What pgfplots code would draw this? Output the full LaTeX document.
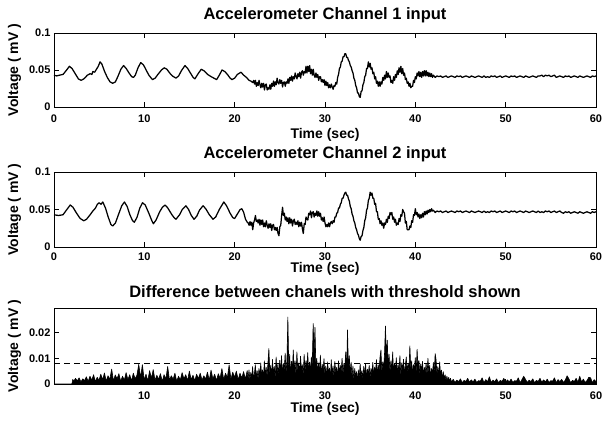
\documentclass[border=0pt]{standalone}
\usepackage{fontspec}
\setmainfont{Liberation Sans}
\usepackage{pgfplots}
\usepackage{pgfplotstable}
\pgfplotsset{compat=1.18}

\newcommand\tickfont{\bfseries\fontsize{11bp}{13bp}\selectfont}
\newcommand\labfont{\bfseries\fontsize{14bp}{16bp}\selectfont}
\newcommand\titfont{\bfseries\fontsize{16.5bp}{18bp}\selectfont}

% channel 1 (mV)
\pgfplotstableread[row sep=\\]{t v\\
0 0.043\\ 0.3 0.042\\ 0.6 0.043\\ 1.0 0.044\\ 1.4 0.050\\ 1.7 0.055\\ 2.0 0.052\\ 2.4 0.044\\ 2.7 0.038\\ 3.0 0.036\\
3.3 0.038\\ 3.7 0.043\\ 4.0 0.045\\ 4.2 0.044\\ 4.3 0.048\\ 4.5 0.047\\ 4.7 0.051\\ 4.9 0.055\\ 5.1 0.061\\ 5.3 0.058\\
5.6 0.048\\ 5.9 0.040\\ 6.2 0.034\\ 6.5 0.032\\ 6.8 0.034\\ 7.1 0.042\\ 7.4 0.051\\ 7.7 0.056\\ 8.0 0.052\\ 8.3 0.046\\
8.6 0.041\\ 8.8 0.040\\ 9.0 0.043\\ 9.3 0.053\\ 9.6 0.060\\ 9.9 0.057\\ 10.2 0.050\\ 10.5 0.043\\ 10.9 0.037\\ 11.2 0.039\\
11.5 0.044\\ 11.9 0.050\\ 12.2 0.053\\ 12.5 0.051\\ 12.8 0.046\\ 13.1 0.042\\ 13.5 0.039\\ 13.8 0.042\\ 14.1 0.049\\ 14.5 0.056\\
14.8 0.052\\ 15.1 0.046\\ 15.4 0.040\\ 15.6 0.038\\ 15.9 0.044\\ 16.3 0.051\\ 16.6 0.049\\ 17.0 0.044\\ 17.4 0.041\\ 17.7 0.039\\
18.0 0.037\\ 18.3 0.043\\ 18.6 0.050\\ 18.9 0.048\\ 19.2 0.044\\ 19.5 0.039\\ 19.7 0.037\\ 20.0 0.039\\ 20.3 0.044\\ 20.7 0.047\\
21.0 0.043\\ 21.3 0.040\\ 21.6 0.036\\ 21.8 0.035\\ 22.0 0.033\\
22.1 0.036\\ 22.2 0.031\\ 22.3 0.036\\ 22.4 0.028\\ 22.5 0.033\\ 22.6 0.029\\ 22.7 0.036\\ 22.8 0.030\\ 22.9 0.026\\ 23.0 0.032\\
23.1 0.027\\ 23.2 0.032\\ 23.3 0.023\\ 23.4 0.030\\ 23.5 0.031\\ 23.6 0.023\\ 23.7 0.026\\ 23.8 0.024\\ 23.9 0.030\\ 24.0 0.024\\
24.1 0.032\\ 24.2 0.028\\ 24.3 0.035\\ 24.4 0.028\\ 24.5 0.034\\ 24.6 0.030\\ 24.7 0.039\\ 24.8 0.033\\ 24.9 0.031\\ 25.0 0.037\\
25.1 0.032\\ 25.2 0.036\\ 25.3 0.027\\ 25.4 0.033\\ 25.5 0.034\\ 25.6 0.028\\ 25.7 0.034\\ 25.8 0.032\\ 25.9 0.038\\ 26.0 0.032\\
26.1 0.040\\ 26.2 0.036\\ 26.3 0.042\\ 26.4 0.035\\ 26.5 0.041\\ 26.6 0.038\\ 26.7 0.046\\ 26.8 0.041\\ 26.9 0.038\\ 27.0 0.045\\
27.1 0.041\\ 27.2 0.047\\ 27.3 0.039\\ 27.4 0.047\\ 27.5 0.049\\ 27.6 0.043\\ 27.7 0.048\\ 27.8 0.046\\ 27.9 0.055\\ 28.0 0.046\\
28.1 0.055\\ 28.2 0.048\\ 28.3 0.056\\ 28.4 0.045\\ 28.5 0.051\\ 28.6 0.043\\ 28.7 0.051\\ 28.8 0.043\\ 28.9 0.040\\ 29.0 0.046\\
29.1 0.040\\ 29.2 0.044\\ 29.3 0.036\\ 29.4 0.041\\ 29.5 0.041\\ 29.6 0.034\\ 29.7 0.037\\ 29.8 0.033\\ 29.9 0.037\\ 30.0 0.029\\
30.1 0.035\\ 30.2 0.029\\ 30.3 0.033\\ 30.4 0.026\\ 30.5 0.030\\ 30.6 0.026\\ 30.7 0.031\\ 30.8 0.027\\ 30.9 0.024\\ 31.0 0.029\\
31.1 0.028\\ 31.2 0.033\\ 31.3 0.031\\ 31.4 0.040\\ 31.5 0.044\\ 31.6 0.052\\ 31.7 0.054\\ 31.8 0.061\\ 31.9 0.062\\ 32.0 0.068\\
32.1 0.068\\ 32.2 0.072\\ 32.3 0.072\\ 32.4 0.067\\ 32.5 0.067\\ 32.6 0.063\\ 32.7 0.061\\ 32.8 0.056\\ 32.9 0.054\\ 33.0 0.049\\
33.1 0.046\\ 33.2 0.039\\ 33.3 0.036\\ 33.4 0.029\\ 33.5 0.026\\ 33.6 0.019\\ 33.7 0.019\\ 33.8 0.014\\ 33.9 0.013\\ 34.0 0.021\\
34.1 0.022\\ 34.2 0.030\\ 34.3 0.033\\ 34.4 0.041\\ 34.5 0.043\\ 34.6 0.052\\ 34.7 0.052\\ 34.8 0.061\\ 34.9 0.054\\ 35.0 0.059\\
35.1 0.051\\ 35.2 0.053\\ 35.3 0.045\\ 35.4 0.047\\ 35.5 0.038\\ 35.6 0.041\\ 35.7 0.032\\ 35.8 0.035\\ 35.9 0.028\\ 36.0 0.034\\
36.1 0.028\\ 36.2 0.034\\ 36.3 0.031\\ 36.4 0.040\\ 36.5 0.036\\ 36.6 0.043\\ 36.7 0.038\\ 36.8 0.048\\ 36.9 0.040\\ 37.0 0.046\\
37.1 0.040\\ 37.2 0.042\\ 37.3 0.033\\ 37.4 0.036\\ 37.5 0.032\\ 37.6 0.041\\ 37.7 0.036\\ 37.8 0.044\\ 37.9 0.040\\ 38.0 0.049\\
38.1 0.044\\ 38.2 0.053\\ 38.3 0.047\\ 38.4 0.055\\ 38.5 0.045\\ 38.6 0.052\\ 38.7 0.043\\ 38.8 0.046\\ 38.9 0.037\\ 39.0 0.039\\
39.1 0.032\\ 39.2 0.034\\ 39.3 0.028\\ 39.4 0.032\\ 39.5 0.026\\ 39.6 0.028\\ 39.7 0.028\\ 39.8 0.036\\ 39.9 0.033\\ 40.0 0.041\\
40.1 0.038\\ 40.2 0.046\\ 40.3 0.042\\ 40.4 0.048\\ 40.5 0.041\\ 40.6 0.047\\ 40.7 0.040\\ 40.8 0.048\\ 40.9 0.042\\ 41.0 0.049\\
41.1 0.042\\ 41.2 0.049\\ 41.3 0.042\\ 41.4 0.047\\ 41.5 0.041\\ 41.6 0.046\\ 41.7 0.041\\ 41.8 0.045\\ 41.9 0.040\\ 42.0 0.043\\
42.2 0.040\\ 42.4 0.042\\ 42.6 0.041\\ 42.8 0.042\\ 43.0 0.040\\ 43.2 0.041\\ 43.4 0.042\\ 43.6 0.040\\ 43.8 0.041\\ 44.0 0.042\\
44.2 0.041\\ 44.4 0.040\\ 44.6 0.042\\ 44.8 0.041\\ 45.0 0.042\\ 45.2 0.040\\ 45.4 0.041\\ 45.6 0.042\\ 45.8 0.041\\ 46.0 0.040\\
46.2 0.042\\ 46.4 0.041\\ 46.6 0.040\\ 46.8 0.041\\ 47.0 0.042\\ 47.2 0.041\\ 47.4 0.040\\ 47.6 0.042\\ 47.8 0.040\\ 48.0 0.041\\
48.2 0.040\\ 48.4 0.042\\ 48.6 0.041\\ 48.8 0.042\\ 49.0 0.040\\ 49.2 0.041\\ 49.4 0.042\\ 49.6 0.040\\ 49.8 0.041\\ 50.0 0.042\\
50.2 0.041\\ 50.4 0.040\\ 50.6 0.042\\ 50.8 0.041\\ 51.0 0.042\\ 51.2 0.040\\ 51.4 0.041\\ 51.6 0.042\\ 51.8 0.041\\ 52.0 0.040\\
52.2 0.042\\ 52.4 0.041\\ 52.6 0.040\\ 52.8 0.041\\ 53.0 0.042\\ 53.2 0.041\\ 53.4 0.040\\ 53.6 0.042\\ 53.8 0.042\\ 54.0 0.043\\
54.2 0.041\\ 54.4 0.043\\ 54.6 0.042\\ 54.8 0.043\\ 55.0 0.041\\ 55.2 0.042\\ 55.4 0.043\\ 55.6 0.040\\ 55.8 0.041\\ 56.0 0.042\\
56.2 0.041\\ 56.4 0.040\\ 56.6 0.042\\ 56.8 0.041\\ 57.0 0.042\\ 57.2 0.040\\ 57.4 0.041\\ 57.6 0.042\\ 57.8 0.041\\ 58.0 0.040\\
58.2 0.042\\ 58.4 0.041\\ 58.6 0.040\\ 58.8 0.041\\ 59.0 0.042\\ 59.2 0.041\\ 59.4 0.040\\ 59.6 0.042\\ 59.8 0.041\\ 60.0 0.042\\
}\chone

% channel 2 (mV)
\pgfplotstableread[row sep=\\]{t v\\
0 0.043\\ 0.5 0.042\\ 1.0 0.043\\ 1.3 0.048\\ 1.8 0.056\\ 2.1 0.053\\ 2.5 0.045\\ 2.9 0.038\\ 3.3 0.035\\ 3.6 0.037\\
4.0 0.043\\ 4.3 0.048\\ 4.6 0.052\\ 4.8 0.057\\ 5.0 0.059\\ 5.2 0.057\\ 5.4 0.060\\ 5.7 0.052\\ 6.0 0.040\\ 6.3 0.030\\
6.5 0.028\\ 6.8 0.032\\ 7.1 0.042\\ 7.5 0.055\\ 7.8 0.060\\ 8.1 0.054\\ 8.4 0.043\\ 8.7 0.035\\ 8.9 0.033\\ 9.2 0.040\\
9.5 0.052\\ 9.8 0.059\\ 10.1 0.056\\ 10.5 0.045\\ 10.8 0.036\\ 11.0 0.031\\ 11.3 0.036\\ 11.7 0.047\\ 12.0 0.053\\ 12.3 0.056\\
12.6 0.052\\ 13.0 0.044\\ 13.3 0.039\\ 13.5 0.037\\ 13.9 0.043\\ 14.2 0.050\\ 14.6 0.055\\ 14.9 0.050\\ 15.2 0.042\\ 15.5 0.037\\
15.8 0.041\\ 16.1 0.049\\ 16.5 0.055\\ 16.8 0.051\\ 17.2 0.043\\ 17.6 0.037\\ 17.9 0.040\\ 18.3 0.050\\ 18.8 0.060\\ 19.1 0.055\\
19.5 0.045\\ 19.8 0.039\\ 20.0 0.038\\ 20.3 0.044\\ 20.6 0.050\\ 20.8 0.051\\ 21.0 0.046\\ 21.2 0.037\\ 21.4 0.033\\
21.5 0.032\\ 21.6 0.029\\ 21.7 0.034\\ 21.8 0.029\\ 21.9 0.033\\ 22.0 0.023\\ 22.1 0.032\\ 22.2 0.036\\ 22.3 0.042\\ 22.4 0.034\\
22.5 0.036\\ 22.6 0.032\\ 22.7 0.037\\ 22.8 0.029\\ 22.9 0.036\\ 23.0 0.030\\ 23.1 0.036\\ 23.2 0.027\\ 23.3 0.032\\ 23.4 0.027\\
23.5 0.035\\ 23.6 0.029\\ 23.7 0.025\\ 23.8 0.031\\ 23.9 0.026\\ 24.0 0.031\\ 24.1 0.022\\ 24.2 0.029\\ 24.3 0.030\\ 24.4 0.023\\
24.5 0.026\\ 24.6 0.022\\ 24.7 0.026\\ 24.8 0.018\\ 24.9 0.015\\ 25.0 0.027\\ 25.1 0.029\\ 25.2 0.042\\ 25.3 0.053\\ 25.4 0.042\\
25.5 0.045\\ 25.6 0.036\\ 25.7 0.040\\ 25.8 0.034\\ 25.9 0.039\\ 26.0 0.031\\ 26.1 0.039\\ 26.2 0.032\\ 26.3 0.037\\ 26.4 0.028\\
26.5 0.035\\ 26.6 0.037\\ 26.7 0.030\\ 26.8 0.033\\ 26.9 0.030\\ 27.0 0.035\\ 27.1 0.027\\ 27.2 0.033\\ 27.3 0.028\\ 27.4 0.033\\
27.5 0.024\\ 27.6 0.018\\ 27.7 0.031\\ 27.8 0.030\\ 27.9 0.040\\ 28.0 0.037\\ 28.1 0.036\\ 28.2 0.045\\ 28.3 0.043\\ 28.4 0.048\\
28.5 0.039\\ 28.6 0.046\\ 28.7 0.047\\ 28.8 0.040\\ 28.9 0.045\\ 29.0 0.042\\ 29.1 0.048\\ 29.2 0.041\\ 29.3 0.047\\ 29.4 0.041\\
29.5 0.045\\ 29.6 0.036\\ 29.7 0.039\\ 29.8 0.034\\ 29.9 0.040\\ 30.0 0.032\\ 30.1 0.027\\ 30.2 0.030\\ 30.3 0.027\\ 30.4 0.032\\
30.5 0.027\\ 30.6 0.032\\ 30.7 0.034\\ 30.8 0.031\\ 30.9 0.035\\ 31.0 0.033\\ 31.1 0.040\\ 31.2 0.040\\ 31.3 0.045\\ 31.4 0.046\\
31.5 0.052\\ 31.6 0.052\\ 31.7 0.057\\ 31.8 0.059\\ 31.9 0.065\\ 32.0 0.065\\ 32.1 0.069\\ 32.2 0.072\\ 32.3 0.073\\ 32.4 0.069\\
32.5 0.069\\ 32.6 0.064\\ 32.7 0.061\\ 32.8 0.054\\ 32.9 0.051\\ 33.0 0.044\\ 33.1 0.041\\ 33.2 0.035\\ 33.3 0.032\\ 33.4 0.026\\
33.5 0.023\\ 33.6 0.018\\ 33.7 0.016\\ 33.8 0.011\\ 33.9 0.009\\ 34.0 0.014\\ 34.1 0.015\\ 34.2 0.022\\ 34.3 0.026\\ 34.4 0.035\\
34.5 0.039\\ 34.6 0.049\\ 34.7 0.052\\ 34.8 0.062\\ 34.9 0.065\\ 35.0 0.073\\ 35.1 0.069\\ 35.2 0.072\\ 35.3 0.065\\ 35.4 0.065\\
35.5 0.057\\ 35.6 0.058\\ 35.7 0.047\\ 35.8 0.047\\ 35.9 0.037\\ 36.0 0.038\\ 36.1 0.031\\ 36.2 0.035\\ 36.3 0.029\\ 36.4 0.032\\
36.5 0.025\\ 36.6 0.032\\ 36.7 0.030\\ 36.8 0.037\\ 36.9 0.033\\ 37.0 0.041\\ 37.1 0.038\\ 37.2 0.046\\ 37.3 0.043\\ 37.4 0.046\\
37.5 0.037\\ 37.6 0.040\\ 37.7 0.033\\ 37.8 0.037\\ 37.9 0.029\\ 38.0 0.032\\ 38.1 0.030\\ 38.2 0.038\\ 38.3 0.034\\ 38.4 0.043\\
38.5 0.041\\ 38.6 0.050\\ 38.7 0.047\\ 38.8 0.045\\ 38.9 0.032\\ 39.0 0.034\\ 39.1 0.023\\ 39.2 0.023\\ 39.3 0.023\\ 39.4 0.028\\
39.5 0.026\\ 39.6 0.035\\ 39.7 0.033\\ 39.8 0.043\\ 39.9 0.042\\ 40.0 0.051\\ 40.1 0.043\\ 40.2 0.046\\ 40.3 0.040\\ 40.4 0.044\\
40.5 0.038\\ 40.6 0.043\\ 40.7 0.039\\ 40.8 0.045\\ 40.9 0.040\\ 41.0 0.047\\ 41.1 0.043\\ 41.2 0.048\\ 41.3 0.044\\ 41.4 0.049\\
41.5 0.046\\ 41.6 0.050\\ 41.7 0.047\\ 41.8 0.051\\ 41.9 0.048\\ 42.0 0.049\\
42.2 0.046\\ 42.4 0.048\\ 42.6 0.047\\ 42.8 0.048\\ 43.0 0.046\\ 43.2 0.047\\ 43.4 0.048\\ 43.6 0.046\\ 43.8 0.047\\ 44.0 0.048\\
44.2 0.047\\ 44.4 0.046\\ 44.6 0.048\\ 44.8 0.047\\ 45.0 0.048\\ 45.2 0.046\\ 45.4 0.047\\ 45.6 0.048\\ 45.8 0.047\\ 46.0 0.046\\
46.2 0.048\\ 46.4 0.047\\ 46.6 0.046\\ 46.8 0.047\\ 47.0 0.048\\ 47.2 0.047\\ 47.4 0.046\\ 47.6 0.048\\ 47.8 0.046\\ 48.0 0.047\\
48.2 0.046\\ 48.4 0.048\\ 48.6 0.047\\ 48.8 0.048\\ 49.0 0.046\\ 49.2 0.047\\ 49.4 0.048\\ 49.6 0.046\\ 49.8 0.047\\ 50.0 0.048\\
50.2 0.047\\ 50.4 0.046\\ 50.6 0.048\\ 50.8 0.047\\ 51.0 0.048\\ 51.2 0.046\\ 51.4 0.047\\ 51.6 0.048\\ 51.8 0.047\\ 52.0 0.046\\
52.2 0.048\\ 52.4 0.047\\ 52.6 0.046\\ 52.8 0.047\\ 53.0 0.048\\ 53.2 0.047\\ 53.4 0.046\\ 53.6 0.048\\ 53.8 0.046\\ 54.0 0.047\\
54.2 0.046\\ 54.4 0.048\\ 54.6 0.047\\ 54.8 0.048\\ 55.0 0.046\\ 55.2 0.047\\ 55.4 0.048\\ 55.6 0.046\\ 55.8 0.047\\ 56.0 0.048\\
56.2 0.046\\ 56.4 0.045\\ 56.6 0.047\\ 56.8 0.046\\ 57.0 0.047\\ 57.2 0.045\\ 57.4 0.046\\ 57.6 0.047\\ 57.8 0.046\\ 58.0 0.045\\
58.2 0.047\\ 58.4 0.046\\ 58.6 0.045\\ 58.8 0.046\\ 59.0 0.047\\ 59.2 0.046\\ 59.4 0.045\\ 59.6 0.047\\ 59.8 0.046\\ 60.0 0.047\\
}\chtwo

% difference between channels (mV)
\pgfplotstableread[row sep=\\]{t v\\
0.02 0\\ 2.0 0\\ 2.1 0.0018\\ 2.2 0.0010\\ 2.4 0.0022\\ 2.6 0.0012\\ 2.8 0.0024\\ 3.0 0.0008\\ 3.2 0.0020\\ 3.4 0.0013\\
3.6 0.0028\\ 3.8 0.0010\\ 4.0 0.0030\\ 4.2 0.0015\\ 4.4 0.0036\\ 4.6 0.0009\\ 4.8 0.0026\\ 5.0 0.0014\\ 5.2 0.0038\\ 5.4 0.0016\\
5.6 0.0043\\ 5.8 0.0011\\ 6.0 0.0032\\ 6.2 0.0018\\ 6.4 0.0058\\ 6.6 0.0012\\ 6.8 0.0035\\ 7.0 0.0020\\ 7.2 0.0040\\ 7.4 0.0010\\
7.6 0.0030\\ 7.8 0.0015\\ 8.0 0.0044\\ 8.2 0.0017\\ 8.4 0.0036\\ 8.6 0.0012\\ 8.8 0.0042\\ 9.0 0.0020\\ 9.2 0.0034\\ 9.4 0.0076\\
9.6 0.0025\\ 9.8 0.0075\\ 10.0 0.0016\\ 10.2 0.0038\\ 10.4 0.0012\\ 10.6 0.0052\\ 10.8 0.0022\\ 11.0 0.0056\\ 11.2 0.0014\\ 11.4 0.0034\\
11.6 0.0018\\ 11.8 0.0040\\ 12.0 0.0010\\ 12.2 0.0036\\ 12.4 0.0019\\ 12.6 0.0068\\ 12.8 0.0015\\ 13.0 0.0032\\ 13.2 0.0018\\ 13.4 0.0042\\
13.6 0.0011\\ 13.8 0.0030\\ 14.0 0.0016\\ 14.2 0.0044\\ 14.4 0.0020\\ 14.6 0.0036\\ 14.8 0.0013\\ 15.0 0.0050\\ 15.2 0.0017\\ 15.4 0.0034\\
15.6 0.0012\\ 15.8 0.0038\\ 16.0 0.0021\\ 16.2 0.0042\\ 16.4 0.0015\\ 16.6 0.0032\\ 16.8 0.0019\\ 17.0 0.0046\\ 17.2 0.0014\\ 17.4 0.0054\\
17.6 0.0020\\ 17.8 0.0038\\ 18.0 0.0013\\ 18.2 0.0040\\ 18.4 0.0022\\ 18.6 0.0060\\ 18.8 0.0017\\ 19.0 0.0042\\ 19.2 0.0024\\ 19.4 0.0074\\
19.6 0.0018\\ 19.8 0.0046\\ 20.0 0.0026\\ 20.2 0.0050\\ 20.4 0.0016\\ 20.6 0.0042\\ 20.8 0.0023\\ 21.0 0.0048\\ 21.2 0.0019\\ 21.4 0.0052\\
21.5 0.0020\\ 21.6 0.0055\\ 21.7 0.0015\\ 21.8 0.0045\\ 21.9 0.0022\\ 22.0 0.0068\\ 22.1 0.0018\\ 22.2 0.0040\\ 22.3 0.0075\\ 22.4 0.0024\\
22.5 0.0052\\ 22.6 0.0016\\ 22.7 0.0060\\ 22.8 0.0028\\ 22.9 0.0082\\ 23.0 0.0030\\ 23.1 0.0055\\ 23.2 0.0022\\ 23.3 0.0090\\ 23.4 0.0034\\
23.5 0.0065\\ 23.6 0.0026\\ 23.7 0.0085\\ 23.8 0.0138\\ 23.9 0.0040\\ 24.0 0.0072\\ 24.1 0.0028\\ 24.2 0.0095\\ 24.3 0.0036\\ 24.4 0.0068\\
24.5 0.0020\\ 24.6 0.0105\\ 24.7 0.0042\\ 24.8 0.0078\\ 24.9 0.0030\\ 25.0 0.0092\\ 25.1 0.0045\\ 25.2 0.0110\\ 25.3 0.0032\\ 25.4 0.0080\\
25.5 0.0050\\ 25.6 0.0120\\ 25.7 0.0040\\ 25.8 0.0095\\ 25.9 0.0260\\ 26.0 0.0060\\ 26.1 0.0115\\ 26.2 0.0035\\ 26.3 0.0088\\ 26.4 0.0052\\
26.5 0.0132\\ 26.6 0.0044\\ 26.7 0.0090\\ 26.8 0.0028\\ 26.9 0.0125\\ 27.0 0.0050\\ 27.1 0.0082\\ 27.2 0.0036\\ 27.3 0.0108\\ 27.4 0.0055\\
27.5 0.0075\\ 27.6 0.0032\\ 27.7 0.0115\\ 27.8 0.0048\\ 27.9 0.0090\\ 28.0 0.0062\\ 28.1 0.0122\\ 28.2 0.0038\\ 28.3 0.0085\\ 28.4 0.0050\\
28.5 0.0105\\ 28.6 0.0070\\ 28.7 0.0235\\ 28.8 0.0120\\ 28.9 0.0220\\ 29.0 0.0065\\ 29.1 0.0100\\ 29.2 0.0038\\ 29.3 0.0082\\ 29.4 0.0045\\
29.5 0.0112\\ 29.6 0.0030\\ 29.7 0.0076\\ 29.8 0.0054\\ 29.9 0.0098\\ 30.0 0.0032\\ 30.1 0.0070\\ 30.2 0.0024\\ 30.3 0.0086\\ 30.4 0.0040\\
30.5 0.0062\\ 30.6 0.0018\\ 30.7 0.0094\\ 30.8 0.0035\\ 30.9 0.0070\\ 31.0 0.0026\\ 31.1 0.0088\\ 31.2 0.0042\\ 31.3 0.0065\\ 31.4 0.0020\\
31.5 0.0090\\ 31.6 0.0038\\ 31.7 0.0072\\ 31.8 0.0048\\ 31.9 0.0100\\ 32.0 0.0034\\ 32.1 0.0080\\ 32.2 0.0055\\ 32.3 0.0125\\ 32.4 0.0040\\
32.5 0.0210\\ 32.6 0.0065\\ 32.7 0.0110\\ 32.8 0.0030\\ 32.9 0.0085\\ 33.0 0.0024\\ 33.1 0.0070\\ 33.2 0.0015\\ 33.3 0.0060\\ 33.4 0.0028\\
33.5 0.0048\\ 33.6 0.0012\\ 33.7 0.0055\\ 33.8 0.0022\\ 33.9 0.0078\\ 34.0 0.0030\\ 34.1 0.0052\\ 34.2 0.0018\\ 34.3 0.0068\\ 34.4 0.0034\\
34.5 0.0080\\ 34.6 0.0020\\ 34.7 0.0058\\ 34.8 0.0036\\ 34.9 0.0072\\ 35.0 0.0025\\ 35.1 0.0060\\ 35.2 0.0040\\ 35.3 0.0084\\ 35.4 0.0028\\
35.5 0.0066\\ 35.6 0.0045\\ 35.7 0.0095\\ 35.8 0.0032\\ 35.9 0.0074\\ 36.0 0.0050\\ 36.1 0.0105\\ 36.2 0.0132\\ 36.3 0.0046\\ 36.4 0.0086\\
36.5 0.0060\\ 36.6 0.0120\\ 36.7 0.0225\\ 36.8 0.0100\\ 36.9 0.0170\\ 37.0 0.0068\\ 37.1 0.0115\\ 37.2 0.0042\\ 37.3 0.0090\\ 37.4 0.0056\\
37.5 0.0125\\ 37.6 0.0038\\ 37.7 0.0080\\ 37.8 0.0052\\ 37.9 0.0102\\ 38.0 0.0034\\ 38.1 0.0076\\ 38.2 0.0048\\ 38.3 0.0110\\ 38.4 0.0030\\
38.5 0.0082\\ 38.6 0.0055\\ 38.7 0.0096\\ 38.8 0.0036\\ 38.9 0.0070\\ 39.0 0.0105\\ 39.1 0.0042\\ 39.2 0.0080\\ 39.3 0.0050\\ 39.4 0.0148\\
39.5 0.0060\\ 39.6 0.0090\\ 39.7 0.0038\\ 39.8 0.0075\\ 39.9 0.0052\\ 40.0 0.0102\\ 40.1 0.0040\\ 40.2 0.0135\\ 40.3 0.0065\\ 40.4 0.0092\\
40.5 0.0034\\ 40.6 0.0078\\ 40.7 0.0050\\ 40.8 0.0088\\ 40.9 0.0028\\ 41.0 0.0065\\ 41.1 0.0044\\ 41.2 0.0080\\ 41.3 0.0030\\ 41.4 0.0100\\
41.5 0.0046\\ 41.6 0.0072\\ 41.7 0.0026\\ 41.8 0.0060\\ 41.9 0.0038\\ 42.0 0.0084\\ 42.1 0.0042\\ 42.2 0.0118\\ 42.3 0.0095\\ 42.4 0.0035\\
42.5 0.0068\\ 42.6 0.0028\\ 42.7 0.0086\\ 42.8 0.0032\\ 42.9 0.0054\\ 43.0 0.0020\\ 43.1 0.0048\\ 43.2 0.0018\\ 43.3 0.0036\\ 43.4 0.0014\\
43.5 0.0030\\ 43.6 0.0012\\ 43.7 0.0026\\ 43.8 0.0010\\ 43.9 0.0022\\ 44.0 0.0008\\
44.2 0.0018\\ 44.4 0.0006\\ 44.6 0.0015\\ 44.8 0.0009\\ 45.0 0.0020\\ 45.2 0.0005\\ 45.4 0.0014\\ 45.6 0.0010\\ 45.8 0.0022\\ 46.0 0.0007\\
46.2 0.0016\\ 46.4 0.0008\\ 46.6 0.0019\\ 46.8 0.0006\\ 47.0 0.0013\\ 47.2 0.0011\\ 47.4 0.0024\\ 47.6 0.0005\\ 47.8 0.0017\\ 48.0 0.0009\\
48.2 0.0028\\ 48.4 0.0006\\ 48.6 0.0015\\ 48.8 0.0009\\ 49.0 0.0020\\ 49.2 0.0005\\ 49.4 0.0014\\ 49.6 0.0010\\ 49.8 0.0022\\ 50.0 0.0007\\
50.2 0.0016\\ 50.4 0.0008\\ 50.6 0.0019\\ 50.8 0.0006\\ 51.0 0.0013\\ 51.2 0.0011\\ 51.4 0.0024\\ 51.6 0.0005\\ 51.8 0.0017\\ 52.0 0.0030\\
52.2 0.0018\\ 52.4 0.0006\\ 52.6 0.0015\\ 52.8 0.0009\\ 53.0 0.0020\\ 53.2 0.0005\\ 53.4 0.0014\\ 53.6 0.0010\\ 53.8 0.0022\\ 54.0 0.0007\\
54.2 0.0016\\ 54.4 0.0008\\ 54.6 0.0019\\ 54.8 0.0006\\ 55.0 0.0013\\ 55.2 0.0011\\ 55.4 0.0024\\ 55.6 0.0005\\ 55.8 0.0017\\ 56.0 0.0009\\
56.2 0.0018\\ 56.4 0.0006\\ 56.6 0.0015\\ 56.8 0.0032\\ 57.0 0.0020\\ 57.2 0.0005\\ 57.4 0.0014\\ 57.6 0.0010\\ 57.8 0.0022\\ 58.0 0.0007\\
58.2 0.0030\\ 58.4 0.0008\\ 58.6 0.0019\\ 58.8 0.0006\\ 59.0 0.0013\\ 59.2 0.0026\\ 59.4 0.0024\\ 59.6 0.0005\\ 59.8 0.0017\\ 60.0 0.0009\\
}\chdiff

\pgfplotsset{
  panel/.style={
    scale only axis, width=542bp, anchor=north west,
    xmin=0, xmax=60,
    scaled y ticks=false, scaled x ticks=false,
    tick align=inside, major tick length=5bp,
    axis line style={line width=0.8bp},
    every tick/.append style={line width=0.8bp, black},
    tick label style={font=\tickfont},
    xticklabel style={anchor=base, yshift=-15bp},
    label style={font=\labfont},
    every axis title shift=0pt,
    title style={font=\titfont, at={(axis description cs:0.5,1)}, anchor=base, yshift=14bp},
    ylabel style={at={(axis description cs:-0.0729,0.5)}, anchor=center},
    xlabel style={at={(axis description cs:0.5,0)}, anchor=base, yshift=-31bp},
    xlabel={Time (sec)}, ylabel={Voltage ( mV )},
  },
  sig/.style={black, line width=1.25bp, line join=round},
}

\begin{document}
\begin{tikzpicture}
\path[use as bounding box] (0,0) rectangle (606bp,-422bp);

\begin{axis}[panel, at={(54bp,-33bp)}, height=74bp,
  title={Accelerometer Channel 1 input},
  ymin=0, ymax=0.1, ytick={0,0.05,0.1}, yticklabels={0,0.05,0.1},
  xtick={0,10,...,60}, xticklabels={0,10,20,30,40,50,60}]
\addplot[sig] table[x=t, y=v] {\chone};
\end{axis}

\begin{axis}[panel, at={(54bp,-172bp)}, height=75bp,
  title={Accelerometer Channel 2 input},
  xlabel style={yshift=6bp},
  xticklabel style={yshift=2bp},
  ymin=0, ymax=0.1, ytick={0,0.05,0.1}, yticklabels={0,0.05,0.1},
  xtick={0,10,...,60}, xticklabels={0,10,20,30,40,50,60}]
\addplot[sig] table[x=t, y=v] {\chtwo};
\end{axis}

\begin{axis}[panel, at={(54bp,-308bp)}, height=76bp,
  title={Difference between chanels with threshold shown},
  title style={yshift=-3bp},
  xlabel style={yshift=3bp},
  xmin=0.02,
  ymin=0, ymax=0.0295, ytick={0,0.01,0.02}, yticklabels={0,0.01,0.02},
  xtick={10,20,...,60}, xticklabels={10,20,30,40,50,60}]
\addplot[draw=black, fill=black, line width=0.6bp, line join=round] table[x=t, y=v] {\chdiff} \closedcycle;
\addplot[black, line width=1.1bp, dash pattern=on 6bp off 4bp] coordinates {(0.02,0.008) (60,0.008)};
\end{axis}
\end{tikzpicture}
\end{document}
